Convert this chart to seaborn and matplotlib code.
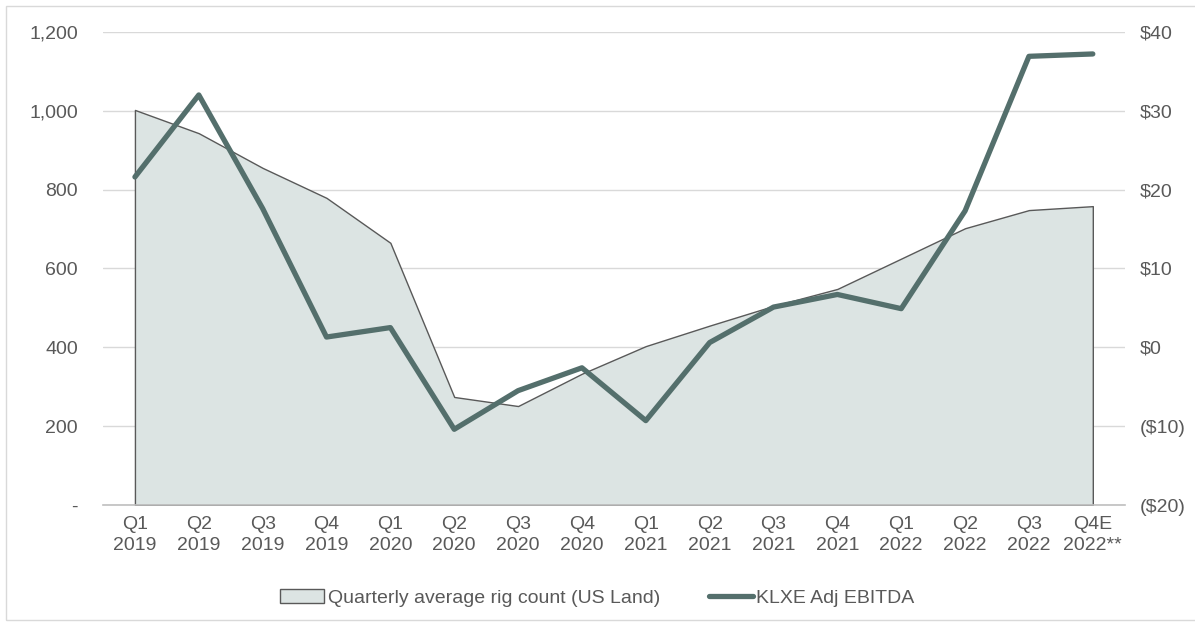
import numpy as np
import pandas as pd
import seaborn as sns
import matplotlib.pyplot as plt
from matplotlib.ticker import FuncFormatter
from matplotlib.patches import Patch, Rectangle
from matplotlib.lines import Line2D

quarters = ['Q1\n2019', 'Q2\n2019', 'Q3\n2019', 'Q4\n2019',
            'Q1\n2020', 'Q2\n2020', 'Q3\n2020', 'Q4\n2020',
            'Q1\n2021', 'Q2\n2021', 'Q3\n2021', 'Q4\n2021',
            'Q1\n2022', 'Q2\n2022', 'Q3\n2022', 'Q4E\n2022**']
rig_count = [1002, 943, 855, 779, 665, 274, 251, 333, 403, 455, 505, 548, 625, 702, 748, 758]
ebitda = [21.6, 32.0, 17.6, 1.3, 2.5, -10.4, -5.5, -2.6, -9.3, 0.6, 5.1, 6.7, 4.9, 17.3, 36.9, 37.2]

df = pd.DataFrame({'pos': np.arange(len(quarters)), 'quarter': quarters,
                   'rigs': rig_count, 'ebitda': ebitda})

sns.set_theme(style='white')
plt.rcParams['font.family'] = ['Liberation Sans', 'DejaVu Sans']

gris = '#595959'
area_col = '#dce4e3'
line_col = '#546f6c'
fs = 14

fig = plt.figure(figsize=(11.95, 6.25), dpi=100)
ax = fig.add_axes([0.0862, 0.192, 0.855, 0.757])

# area del numero de equipos
ax.fill_between(df['pos'], 0, df['rigs'], facecolor=area_col, edgecolor=gris,
                linewidth=1.0, zorder=2)
ax.set_xlim(-0.5, len(quarters) - 0.5)
ax.set_ylim(0, 1200)
ax.set_yticks(range(0, 1201, 200))
ax.yaxis.set_major_formatter(FuncFormatter(lambda v, p: '-' if v == 0 else f'{v:,.0f}'))
ax.set_xticks(df['pos'])
ax.set_xticklabels(df['quarter'], linespacing=1.3)
ax.grid(axis='y', color='#d9d9d9', linewidth=1.0, zorder=0)
ax.set_axisbelow(True)
for s in ['left', 'right', 'top']:
    ax.spines[s].set_visible(False)
ax.spines['bottom'].set_color('#bfbfbf')
ax.spines['bottom'].set_linewidth(1.2)
ax.tick_params(axis='both', length=0, labelsize=fs, colors=gris, pad=8)
ax.tick_params(axis='y', pad=18)
ax.set_xlabel('')
ax.set_ylabel('')

# linea EBITDA en el eje derecho
ax2 = ax.twinx()
sns.lineplot(data=df, x='pos', y='ebitda', ax=ax2, color=line_col, linewidth=3.8,
             legend=False)
ax2.set_ylim(-20, 40)
ax2.set_yticks(range(-20, 41, 10))
ax2.yaxis.set_major_formatter(FuncFormatter(lambda v, p: f'${v:.0f}' if v >= 0 else f'(${-v:.0f})'))
ax2.tick_params(axis='y', length=0, labelsize=fs, colors=gris, pad=11)
for s in ['left', 'right', 'top', 'bottom']:
    ax2.spines[s].set_visible(False)
ax2.set_xlabel('')
ax2.set_ylabel('')

handles = [Patch(facecolor=area_col, edgecolor=gris, linewidth=1.0),
           Line2D([0], [0], color=line_col, linewidth=3.8)]
fig.legend(handles, ['Quarterly average rig count (US Land)', 'KLXE Adj EBITDA'],
           loc='center', bbox_to_anchor=(0.5, 0.043), ncol=2, frameon=False,
           fontsize=fs, labelcolor=gris, handlelength=2.25, handletextpad=0.2,
           columnspacing=2.5)

fig.patches.append(Rectangle((6 / 1195, 5 / 625), 1.0, 614 / 625, transform=fig.transFigure,
                             fill=False, edgecolor='#d9d9d9', linewidth=1.0))

fig.savefig('out.png', dpi=100)
